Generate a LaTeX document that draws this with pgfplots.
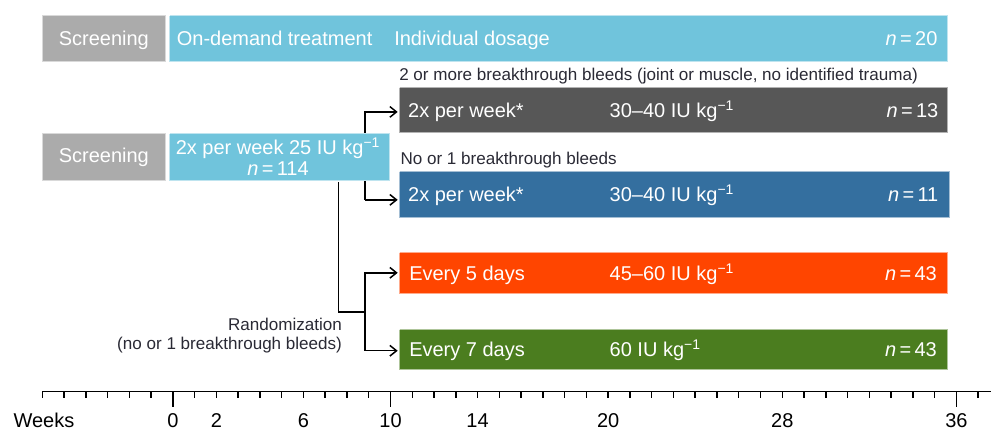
\documentclass[border=0pt]{standalone}
\usepackage{pgfplots}
\pgfplotsset{compat=1.18}
\usepackage{fontspec}
\setmainfont{Liberation Sans}
\usetikzlibrary{arrows.meta}
\definecolor{scrgray}{HTML}{ABABAB}
\definecolor{ltblue}{HTML}{70C4DC}
\definecolor{dkgray}{HTML}{575757}
\definecolor{midblue}{HTML}{346F9F}
\definecolor{orng}{HTML}{FF4500}
\definecolor{grn}{HTML}{4B7D1F}
\definecolor{txt}{HTML}{2A2A35}
\newcommand\bigf{\fontsize{15}{18}\selectfont}
\newcommand\smf{\fontsize{12.8}{15}\selectfont}
% box: colour, x1, x2 (weeks), y1, y2 (px from top)
\newcommand\bx[5]{\addplot[fill=#1, draw=#1!45!white, line width=0.75pt, mark=none] coordinates {(#2,#4) (#3,#4) (#3,#5) (#2,#5) (#2,#4)};}
\begin{document}
\begin{tikzpicture}
\begin{axis}[scale only axis, width=744pt, height=324pt,
  xmin=-7.943, xmax=37.603, ymin=0, ymax=432, y dir=reverse,
  hide axis, clip=false]
\path (rel axis cs:0,0) rectangle (rel axis cs:1,1);
% connector lines (behind boxes)
\draw[line width=1.1pt, -{Straight Barb[length=5pt,width=8pt]}] (axis cs:8.82,200) -- (axis cs:8.82,112) -- (axis cs:10.33,112);
\draw[line width=1.1pt, -{Straight Barb[length=5pt,width=8pt]}] (axis cs:8.82,200) -- (axis cs:10.33,200);
\draw[line width=1.1pt] (axis cs:7.62,182) -- (axis cs:7.62,312) -- (axis cs:8.82,312);
\draw[line width=1.1pt, {Straight Barb[length=5pt,width=8pt]}-{Straight Barb[length=5pt,width=8pt]}] (axis cs:10.33,273) -- (axis cs:8.82,273) -- (axis cs:8.82,351) -- (axis cs:10.33,351);
% boxes
\bx{scrgray}{-6.01}{-0.32}{16}{62}
\bx{ltblue}{-0.14}{35.58}{16}{62}
\bx{dkgray}{10.42}{35.58}{88}{133}
\bx{scrgray}{-6.01}{-0.32}{134}{181}
\bx{ltblue}{-0.14}{9.96}{134}{181}
\bx{midblue}{10.42}{35.67}{172}{218}
\bx{orng}{10.42}{35.58}{253}{294}
\bx{grn}{10.42}{35.58}{330}{370}
% texts
\begin{scope}[every node/.style={inner sep=0pt, text=white, font=\bigf}]
\node[anchor=base] at (axis cs:-3.17,46) {Screening};
\node[anchor=base west] at (axis cs:0.17,46) {On-demand treatment};
\node[anchor=base west] at (axis cs:10.16,46) {Individual dosage};
\node[anchor=base east] at (axis cs:35.14,46) {\textit{n}\,=\,20};
\node[anchor=base west] at (axis cs:10.80,118) {2x per week*};
\node[anchor=base west] at (axis cs:20.06,118) {30–40 IU kg\textsuperscript{−1}};
\node[anchor=base east] at (axis cs:35.18,118) {\textit{n}\,=\,13};
\node[anchor=base] at (axis cs:-3.17,163) {Screening};
\node[anchor=base] at (axis cs:4.83,155) {2x per week 25 IU kg\textsuperscript{−1}};
\node[anchor=base] at (axis cs:4.83,176) {\textit{n}\,=\,114};
\node[anchor=base west] at (axis cs:10.80,202) {2x per week*};
\node[anchor=base west] at (axis cs:20.06,202) {30–40 IU kg\textsuperscript{−1}};
\node[anchor=base east] at (axis cs:35.18,202) {\textit{n}\,=\,11};
\node[anchor=base west] at (axis cs:10.85,281) {Every 5 days};
\node[anchor=base west] at (axis cs:20.06,281) {45–60 IU kg\textsuperscript{−1}};
\node[anchor=base east] at (axis cs:35.11,281) {\textit{n}\,=\,43};
\node[anchor=base west] at (axis cs:10.85,357) {Every 7 days};
\node[anchor=base west] at (axis cs:20.06,357) {60 IU kg\textsuperscript{−1}};
\node[anchor=base east] at (axis cs:35.11,357) {\textit{n}\,=\,43};
\end{scope}
\begin{scope}[every node/.style={inner sep=0pt, text=txt, font=\smf}]
\node[anchor=base west] at (axis cs:10.39,81) {2 or more breakthrough bleeds (joint or muscle, no identified trauma)};
\node[anchor=base west] at (axis cs:10.45,165) {No or 1 breakthrough bleeds};
\node[anchor=base east] at (axis cs:7.78,331) {Randomization};
\node[anchor=base east] at (axis cs:7.78,350) {(no or 1 breakthrough bleeds)};
\end{scope}
% timeline
\draw[line width=1.1pt] (axis cs:-6,392) -- (axis cs:37.603,392);
\pgfplotsinvokeforeach{-6,...,37}{\draw[line width=1.1pt] (axis cs:#1,392) -- (axis cs:#1,398.5);}
\pgfplotsinvokeforeach{0,10,36}{\draw[line width=1.1pt] (axis cs:#1,392) -- (axis cs:#1,407);}
\node[anchor=base west, inner sep=0pt, font=\bigf] at (axis cs:-7.33,428) {Weeks};
\pgfplotsinvokeforeach{0,2,6,10,14,20,28,36}{\node[anchor=base, inner sep=0pt, font=\bigf] at (axis cs:#1,428) {#1};}
\end{axis}
\end{tikzpicture}
\end{document}
